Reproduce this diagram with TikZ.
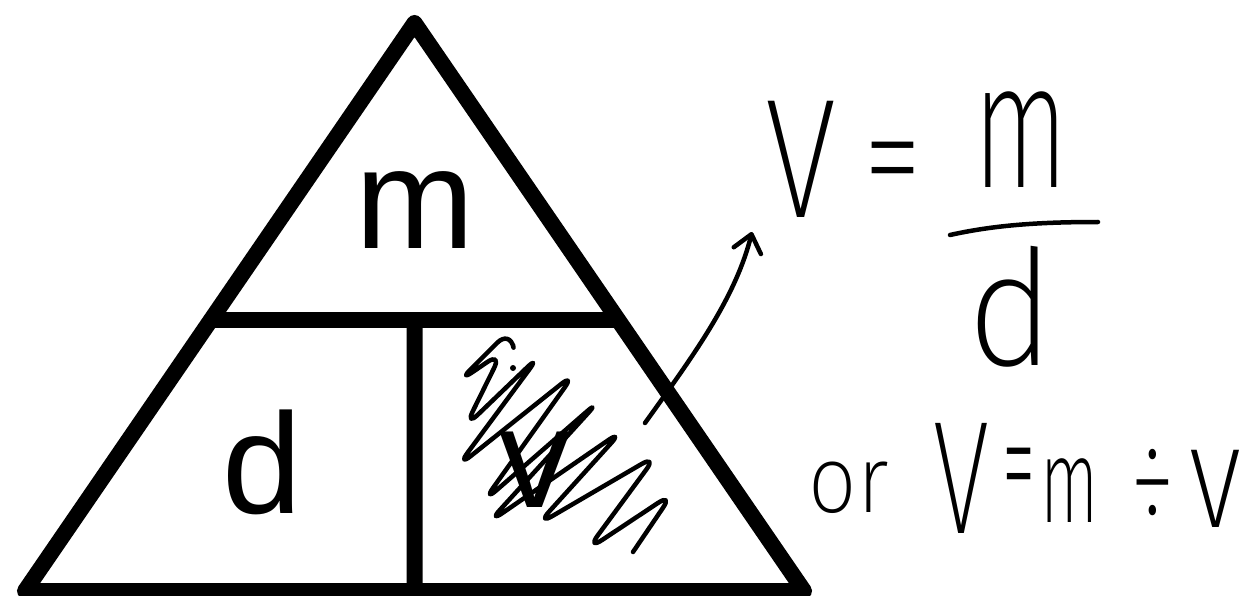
\documentclass[tikz,border=0pt]{standalone}
\usepackage{fontspec}
\usepackage{graphicx}
\setmainfont{Liberation Sans}
\newfontfamily\handfont{Fira Sans ExtraLight}
\usetikzlibrary{arrows.meta,calc}
\newcommand{\hand}[3]{\fontsize{#1}{#1}\selectfont\scalebox{#2}[1]{#3}}

\begin{document}
\begin{tikzpicture}[x=1pt,y=-1pt,
  edge/.style={line width=16pt,line join=round},
  pen/.style={line width=4.5pt,line cap=round,line join=round},
  big/.style={font=\fontsize{143}{143}\selectfont,inner sep=0pt},
  hw/.style={font=\handfont,inner sep=0pt}]
\useasboundingbox (0,0) rectangle (1245,596);
% triangle
\coordinate (top) at (414.5,23);
\coordinate (bl) at (25,591);
\coordinate (br) at (804,591);
\coordinate (ml) at ($(top)!0.523!(bl)$);
\coordinate (mr) at ($(top)!0.523!(br)$);
\draw[edge] (top) -- (bl) -- (br) -- cycle;
\draw[edge] (ml) -- (mr);
\draw[edge] ($(ml)!0.5!(mr)$) -- ($(bl)!0.5!(br)$);
\node[big] (m) at (415.5,210) {m};
\node[big] (d) at (262,462) {d};
\node[big] (v) at (535,470) {v};
% scribble over v
\draw[pen,rounded corners=18pt] (513,345) -- (510,330) -- (458,382) -- (502,352)
  -- (465,427) -- (540,355) -- (457,467) -- (575,373) -- (483,502) -- (600,400)
  -- (488,523) -- (623,430) -- (537,525) -- (657,455) -- (587,550) -- (673,493)
  -- (633,552);
\fill (513,368) circle (3pt);
% arrow
\coordinate (tail) at (645,423);
\coordinate (head) at (752,232);
\draw[pen,-{Straight Barb[length=17pt,width=28pt,round]}] (tail) .. controls (690,360) and (735,300) .. (head);
% handwritten formulas
\node[hw] (V1) at (801,159) {\hand{170}{0.77}{V}};
\node[hw] (eq1) at (893,175) {\hand{150}{0.8}{=}};
\node[hw] (m1) at (1021,140) {\hand{180}{0.62}{m}};
\draw[pen] (950,235) .. controls (995,225) and (1040,222) .. (1098,222);
\node[hw] (d1) at (1011,307) {\hand{161}{0.93}{d}};
\node[hw] (or) at (849,488) {\hand{95}{0.9}{or}};
\node[hw] (V2) at (961,478) {\hand{161}{0.64}{V}};
\node[hw] (eq2) at (1019,481) {\hand{150}{0.45}{=}};
\node[hw] (m2) at (1070,491) {\hand{120}{0.57}{m}};
\node[hw] (div) at (1153,487) {\hand{130}{0.7}{÷}};
\node[hw] (v2) at (1215,489) {\hand{148}{0.76}{v}};
\end{tikzpicture}
\end{document}
